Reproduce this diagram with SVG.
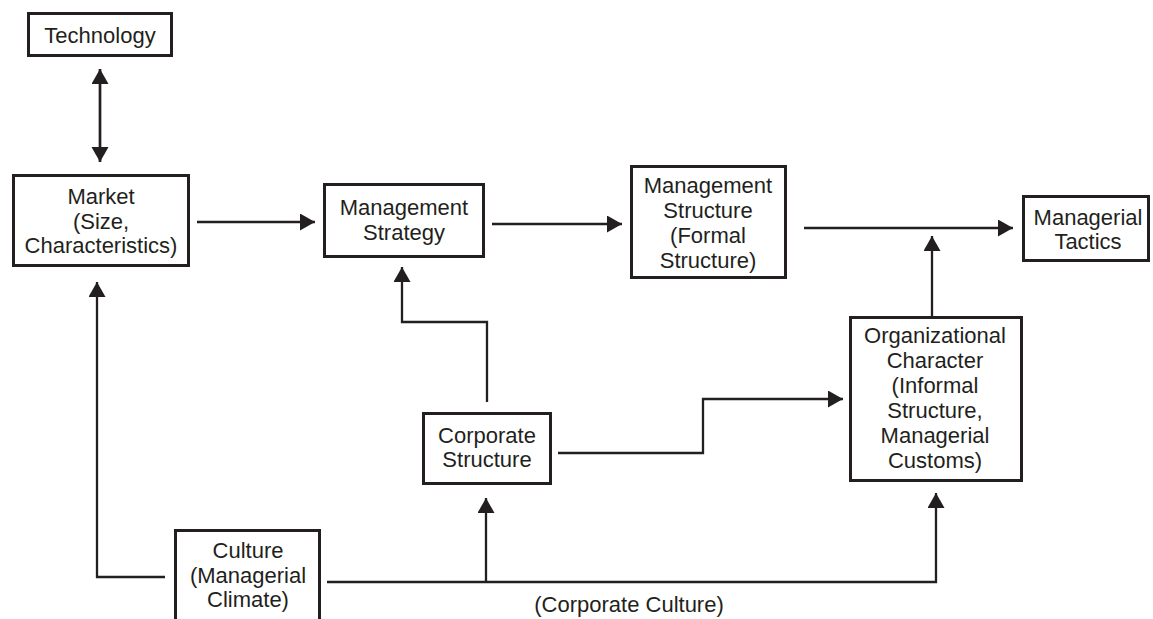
<svg xmlns="http://www.w3.org/2000/svg" width="1153" height="619" viewBox="0 0 1153 619">
<style>
.box{fill:#fff;stroke:#231f20;stroke-width:3}
.t{font-family:"Liberation Sans",Arial,sans-serif;font-size:22px;fill:#231f20;text-anchor:middle}
.c{fill:none;stroke:#231f20;stroke-width:2.3}
</style>
<defs>
<marker id="ah" markerUnits="userSpaceOnUse" markerWidth="16" markerHeight="18" refX="15" refY="8.5" orient="auto-start-reverse">
<path d="M0,0 L15,8.5 L0,17 z" fill="#231f20"/>
</marker>
</defs>
<rect width="1153" height="619" fill="#fff"/>
<g id="connectors">
<line class="c" x1="100" y1="69" x2="100" y2="162" marker-start="url(#ah)" marker-end="url(#ah)" style="stroke-width:2.7"/>
<line class="c" x1="197" y1="222" x2="315" y2="222" marker-end="url(#ah)"/>
<line class="c" x1="492" y1="224" x2="622" y2="224" marker-end="url(#ah)"/>
<line class="c" x1="804" y1="228" x2="1013" y2="228" marker-end="url(#ah)"/>
<line class="c" x1="932" y1="316" x2="932" y2="236" marker-end="url(#ah)"/>
<polyline class="c" points="487,402 487,322 402,322 402,267" marker-end="url(#ah)"/>
<polyline class="c" points="558,453 703,453 703,399 843,399" marker-end="url(#ah)"/>
<polyline class="c" points="165,577 97,577 97,282" marker-end="url(#ah)"/>
<polyline class="c" points="327,582 936,582 936,493" marker-end="url(#ah)"/>
<line class="c" x1="486" y1="582" x2="486" y2="498" marker-end="url(#ah)"/>
<text class="t" x="629" y="612">(Corporate Culture)</text>
</g>
<g id="technology">
<rect class="box" x="28.5" y="13.5" width="143" height="42"/>
<text class="t" x="100" y="43">Technology</text>
</g>
<g id="market">
<rect class="box" x="13.5" y="175.5" width="175" height="90"/>
<text class="t" x="101" y="204">Market</text>
<text class="t" x="101" y="228.5">(Size,</text>
<text class="t" x="101" y="253">Characteristics)</text>
</g>
<g id="management-strategy">
<rect class="box" x="324.5" y="184.5" width="159" height="72"/>
<text class="t" x="404" y="215">Management</text>
<text class="t" x="404" y="240">Strategy</text>
</g>
<g id="management-structure">
<rect class="box" x="631.5" y="166.5" width="154" height="111"/>
<text class="t" x="708" y="193">Management</text>
<text class="t" x="708" y="218">Structure</text>
<text class="t" x="708" y="243">(Formal</text>
<text class="t" x="708" y="268">Structure)</text>
</g>
<g id="managerial-tactics">
<rect class="box" x="1023.5" y="196.5" width="125" height="64"/>
<text class="t" x="1088" y="225">Managerial</text>
<text class="t" x="1088" y="249">Tactics</text>
</g>
<g id="organizational-character">
<rect class="box" x="850.5" y="317.5" width="171" height="163"/>
<text class="t" x="935" y="343">Organizational</text>
<text class="t" x="935" y="368">Character</text>
<text class="t" x="935" y="393">(Informal</text>
<text class="t" x="935" y="418">Structure,</text>
<text class="t" x="935" y="443">Managerial</text>
<text class="t" x="935" y="468">Customs)</text>
</g>
<g id="corporate-structure">
<rect class="box" x="423.5" y="413.5" width="127" height="70"/>
<text class="t" x="487" y="443">Corporate</text>
<text class="t" x="487" y="467">Structure</text>
</g>
<g id="culture">
<rect class="box" x="175.5" y="530.5" width="144" height="100"/>
<text class="t" x="248" y="558">Culture</text>
<text class="t" x="248" y="583">(Managerial</text>
<text class="t" x="248" y="607">Climate)</text>
</g>
</svg>
